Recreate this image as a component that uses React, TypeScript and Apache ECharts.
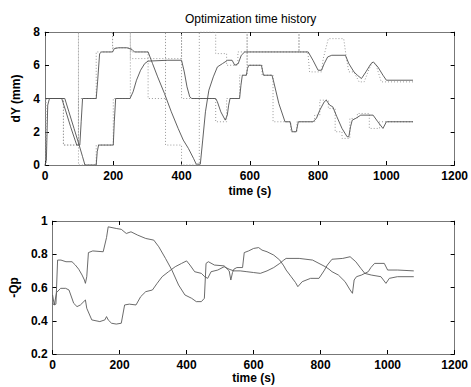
import React, { useEffect, useRef } from "react";
import * as echarts from "echarts";

// ---------- Top plot: dY (mm) ----------
// Solid: actual positions, dotted: targets
const uT = [0, 49, 60, 75, 88, 93, 102, 106, 110, 150, 154, 160, 166, 198, 203, 215, 240, 255, 262, 302, 315, 330, 350, 370, 390, 405, 420, 435, 443, 455, 462, 470, 480, 493, 505, 520, 535, 548, 556, 566, 575, 585, 771, 785, 800, 810, 818, 828, 840, 880, 890, 905, 915, 927, 940, 955, 962, 975, 990, 1000, 1078];
const uV = [4, 4, 3.3, 2.3, 1.5, 1.2, 1.2, 2.6, 4.0, 4.0, 5.0, 6.7, 6.8, 6.8, 7.0, 7.05, 7.05, 6.95, 6.8, 6.8, 6.1, 5.3, 4.3, 3.2, 2.2, 1.5, 1.0, 0.4, 0.05, 0.05, 1.5, 3.2, 4.5, 5.3, 5.9, 6.1, 6.3, 6.3, 6.0, 6.1, 6.6, 6.8, 6.8, 6.3, 5.7, 5.7, 6.1, 6.5, 6.6, 6.6, 6.1, 5.6, 5.4, 5.2, 5.6, 6.1, 6.2, 5.9, 5.4, 5.1, 5.1];

const lT = [0, 4, 8, 13, 58, 70, 85, 100, 110, 117, 150, 153, 157, 200, 203, 207, 249, 258, 268, 280, 292, 302, 360, 400, 408, 416, 424, 430, 500, 505, 515, 528, 534, 538, 542, 570, 574, 578, 590, 593, 597, 634, 640, 665, 670, 685, 703, 718, 724, 736, 742, 785, 795, 805, 818, 824, 834, 843, 855, 870, 885, 890, 895, 900, 910, 925, 961, 975, 990, 1000, 1078];
const lV = [0, 0.3, 3.6, 4.0, 4.0, 3.2, 2.2, 1.2, 0.5, 0, 0, 0.8, 1.2, 1.2, 2.6, 4.0, 4.0, 4.4, 5.1, 5.7, 6.1, 6.25, 6.3, 6.3, 5.6, 4.7, 4.1, 4.0, 4.0, 3.8, 3.2, 2.7, 3.0, 3.6, 4.0, 4.0, 4.8, 5.4, 5.4, 5.8, 6.0, 6.0, 5.4, 5.4, 5.0, 3.7, 2.6, 2.6, 2.0, 2.0, 2.6, 2.6, 2.8, 3.3, 3.8, 3.9, 3.6, 3.5, 2.9, 2.2, 1.7, 1.7, 2.3, 2.7, 2.8, 3.0, 3.0, 2.6, 2.2, 2.6, 2.6];

const duT = [0, 54, 54, 98, 98, 150, 150, 198, 198, 198, 252, 252, 302, 302, 353, 353, 353, 400, 400, 452, 452, 500, 500, 532, 532, 565, 565, 744, 744, 744, 770, 775, 810, 815, 830, 875, 883, 890, 905, 920, 935, 950, 960, 970, 985, 1078];
const duV = [4, 4, 1.2, 1.2, 4, 4, 6.8, 6.8, 8, 7.05, 7.05, 6.8, 6.8, 4, 4, 8, 1.2, 1.2, 0, 0, 8, 8, 6.7, 6.7, 6.0, 6.0, 6.8, 6.8, 8, 6.8, 6.8, 5.6, 5.6, 6.4, 7.6, 7.6, 6.4, 5.6, 5.6, 5.0, 5.0, 5.8, 6.2, 6.0, 5.0, 5.0];

const dlT = [0, 3, 3, 54, 54, 98, 98, 98, 150, 150, 200, 200, 250, 250, 250, 400, 400, 400, 500, 500, 532, 532, 570, 570, 592, 592, 592, 636, 636, 668, 668, 720, 720, 738, 738, 790, 790, 805, 805, 830, 830, 850, 850, 870, 870, 893, 893, 915, 915, 950, 950, 980, 980, 1078];
const dlV = [0, 0, 4, 4, 1.2, 1.2, 8, 0, 0, 1.2, 1.2, 4, 4, 8, 6.4, 6.4, 8, 4, 4, 2.6, 2.6, 4, 4, 5.4, 5.4, 8, 6.0, 6.0, 5.4, 5.4, 2.6, 2.6, 2.0, 2.0, 2.6, 2.6, 3.0, 3.0, 3.9, 3.9, 3.4, 3.4, 2.0, 2.0, 1.6, 1.6, 2.8, 2.8, 3.1, 3.1, 2.2, 2.2, 2.6, 2.6];

// ---------- Bottom plot: -Qp ----------
const b1T = [0, 5, 10, 15, 25, 40, 58, 68, 78, 88, 95, 98, 102, 107, 120, 151, 161, 166, 190, 205, 220, 234, 254, 278, 302, 317, 337, 356, 376, 395, 415, 429, 444, 453, 458, 465, 483, 512, 527, 532, 537, 541, 550, 567, 572, 585, 600, 615, 625, 640, 660, 678, 690, 697, 712, 725, 732, 745, 770, 795, 810, 820, 834, 866, 888, 905, 920, 932, 951, 980, 995, 1005, 1029, 1078];
const b1V = [0.505, 0.495, 0.5, 0.765, 0.765, 0.755, 0.755, 0.735, 0.71, 0.675, 0.645, 0.625, 0.665, 0.81, 0.82, 0.815, 0.9, 0.965, 0.955, 0.95, 0.925, 0.935, 0.915, 0.895, 0.885, 0.845, 0.775, 0.705, 0.615, 0.555, 0.535, 0.515, 0.515, 0.535, 0.745, 0.755, 0.735, 0.73, 0.70, 0.645, 0.69, 0.71, 0.72, 0.72, 0.81, 0.82, 0.835, 0.84, 0.825, 0.815, 0.795, 0.765, 0.73, 0.705, 0.665, 0.63, 0.605, 0.635, 0.655, 0.655, 0.7, 0.735, 0.77, 0.775, 0.785, 0.755, 0.715, 0.685, 0.675, 0.665, 0.625, 0.655, 0.665, 0.665];

const b2T = [0, 5, 12, 24, 39, 49, 63, 73, 83, 98, 102, 117, 141, 156, 161, 166, 176, 190, 205, 215, 229, 249, 263, 278, 298, 312, 327, 346, 366, 385, 400, 410, 424, 444, 454, 463, 473, 493, 512, 527, 541, 560, 580, 600, 620, 640, 660, 678, 690, 697, 736, 776, 795, 814, 825, 834, 853, 873, 888, 895, 900, 907, 922, 942, 950, 961, 990, 1000, 1030, 1078];
const b2V = [0.555, 0.495, 0.57, 0.595, 0.595, 0.585, 0.505, 0.485, 0.495, 0.525, 0.475, 0.405, 0.395, 0.405, 0.425, 0.405, 0.385, 0.38, 0.385, 0.495, 0.5, 0.495, 0.545, 0.575, 0.585, 0.625, 0.665, 0.695, 0.725, 0.745, 0.76, 0.735, 0.695, 0.685, 0.665, 0.655, 0.695, 0.705, 0.725, 0.71, 0.70, 0.70, 0.695, 0.69, 0.685, 0.70, 0.72, 0.745, 0.765, 0.775, 0.775, 0.765, 0.745, 0.725, 0.71, 0.695, 0.675, 0.635, 0.585, 0.565, 0.645, 0.665, 0.675, 0.695, 0.72, 0.745, 0.745, 0.705, 0.705, 0.70];

const titleText = "Optimization time history";
const xName = "time (s)";
const yNameTop = "dY (mm)";
const yNameBottom = "-Qp";

const zip = (t: number[], v: number[]) => t.map((x, i) => [x, v[i]]);

const FONT = "'Liberation Sans', Arial, Helvetica, sans-serif";

export default function App() {
  const ref = useRef<HTMLDivElement>(null);
  useEffect(() => {
    const chart = echarts.init(ref.current!, null, { renderer: "svg" });
    const tick = { show: true, inside: true, length: 4, lineStyle: { color: "#000", width: 1 } };
    const line = { show: true, onZero: false, lineStyle: { color: "#777", width: 1 } };
    const lbl = { fontFamily: FONT, fontSize: 12, fontWeight: "bold", color: "#000", margin: 5 };
    const nameStyle = { fontFamily: FONT, fontSize: 12, fontWeight: "bold", color: "#000" };
    const fmtX = (v: number) => String(Math.round(v));
    const mainX = (gi: number, gap: number) => ({
      gridIndex: gi, type: "value", position: "bottom", min: 0, max: 1200, interval: 200,
      name: xName, nameLocation: "middle", nameGap: gap, nameTextStyle: nameStyle,
      axisLine: line, axisTick: tick, axisLabel: { ...lbl, formatter: fmtX }, splitLine: { show: false },
    });
    const topX = (gi: number) => ({
      gridIndex: gi, type: "value", position: "top", min: 0, max: 1200, interval: 200,
      axisLine: line, axisTick: tick, axisLabel: { show: false }, splitLine: { show: false },
    });
    const fmt = (v: number) => String(+v.toFixed(1));
    const mainY = (gi: number, min: number, max: number, interval: number, name: string, gap: number) => ({
      gridIndex: gi, type: "value", position: "left", min, max, interval,
      name, nameLocation: "middle", nameGap: gap, nameTextStyle: nameStyle,
      axisLine: line, axisTick: tick, axisLabel: { ...lbl, formatter: fmt }, splitLine: { show: false },
    });
    const rightY = (gi: number, min: number, max: number, interval: number) => ({
      gridIndex: gi, type: "value", position: "right", min, max, interval,
      axisLine: line, axisTick: tick, axisLabel: { show: false }, splitLine: { show: false },
    });
    const solid = (data: number[][], xi: number, yi: number, color: string) => ({
      type: "line", xAxisIndex: xi, yAxisIndex: yi, data, showSymbol: false, symbol: "none",
      lineStyle: { color, width: 0.9 }, silent: true,
    });
    const dotted = (data: number[][], xi: number, yi: number) => ({
      type: "line", xAxisIndex: xi, yAxisIndex: yi, data, showSymbol: false, symbol: "none",
      lineStyle: { color: "#9a9a9a", width: 1, type: [1, 2] }, silent: true,
    });
    chart.setOption({
      animation: false,
      backgroundColor: "#fff",
      title: {
        text: titleText, left: 180, top: 8,
        textStyle: { fontFamily: FONT, fontSize: 12, fontWeight: "normal", color: "#000" },
      },
      grid: [
        { left: 45, right: 16, top: 32, height: 133 },
        { left: 45, right: 16, top: 221, height: 133 },
      ],
      xAxis: [mainX(0, 20), topX(0), mainX(1, 13), topX(1)],
      yAxis: [
        mainY(0, 0, 8, 2, yNameTop, 19),
        rightY(0, 0, 8, 2),
        mainY(1, 0.2, 1, 0.2, yNameBottom, 29),
        rightY(1, 0.2, 1, 0.2),
      ],
      series: [
        dotted(zip(duT, duV), 0, 0),
        dotted(zip(dlT, dlV), 0, 0),
        solid(zip(uT, uV), 0, 0, "#505050"),
        solid(zip(lT, lV), 0, 0, "#505050"),
        solid(zip(b1T, b1V), 2, 2, "#5a5a5a"),
        solid(zip(b2T, b2V), 2, 2, "#5a5a5a"),
      ],
    });
    return () => chart.dispose();
  }, []);
  return (
    <div
      ref={ref}
      style={{ position: "absolute", left: 0, top: 0, width: 471, height: 387, background: "#fff" }}
    />
  );
}
